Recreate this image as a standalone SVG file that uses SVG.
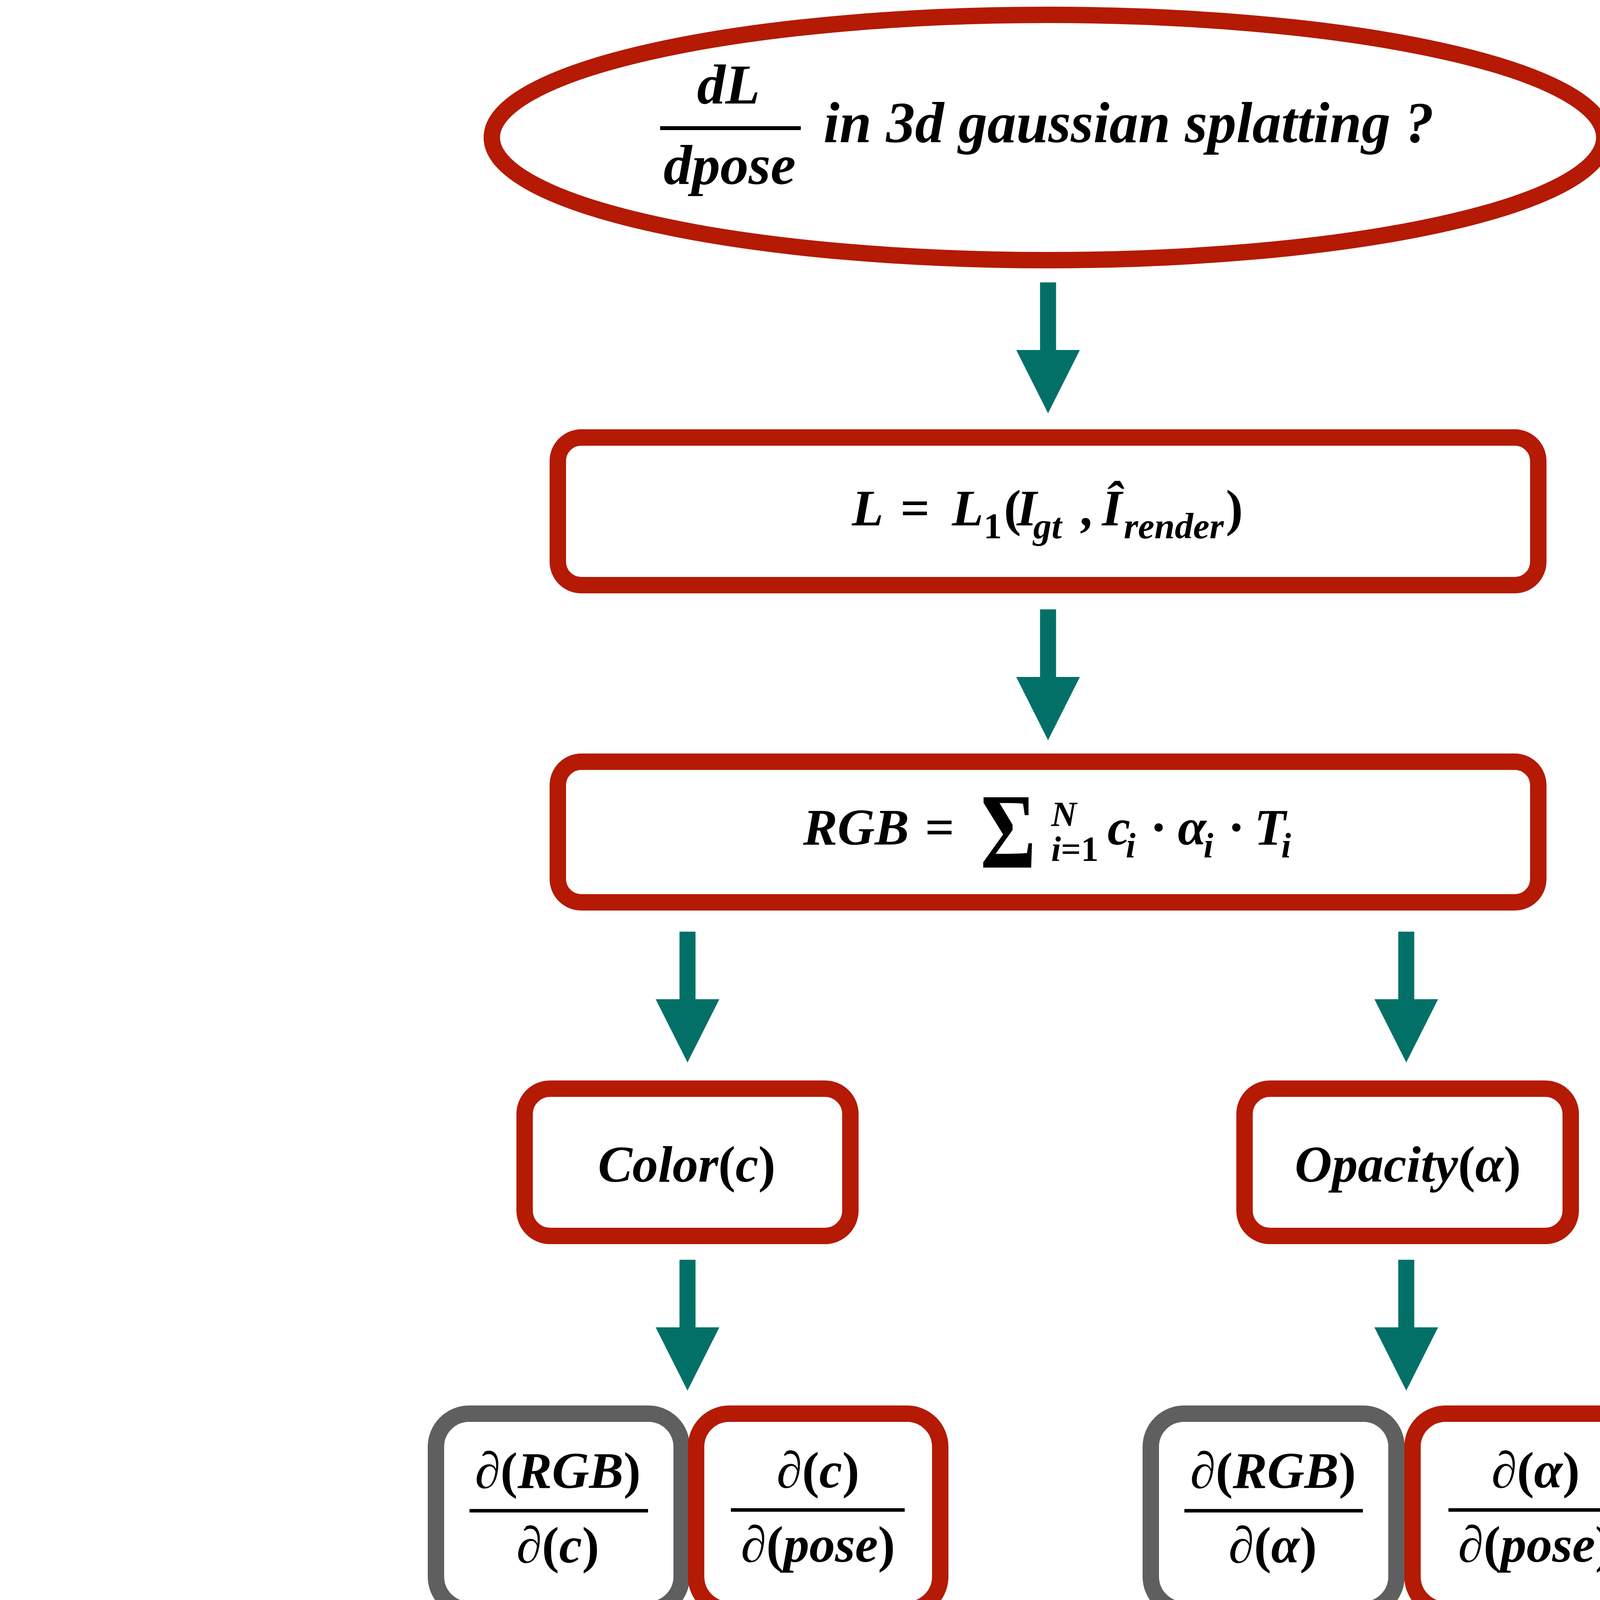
<svg xmlns="http://www.w3.org/2000/svg" xmlns:xlink="http://www.w3.org/1999/xlink" width="5444" height="4161" viewBox="0 0 5444 4161">
<style>
.r{fill:#fff;stroke:#b41a04;stroke-width:42}
.g{fill:#fff;stroke:#5f5f5f;stroke-width:42}
.m{font-family:"Liberation Serif","Times New Roman",serif;font-weight:bold;font-style:italic;fill:#000}
.n{font-style:normal}
.lg{font-family:"Liberation Sans",Arial,sans-serif;font-weight:bold;font-size:106px;fill:#000}
.bar{fill:#000}
.arr{fill:#037068}
</style>
<defs>
<path id="arrow" d="M-20.5,0 H20.5 V173 H81.5 L0,335 L-81.5,173 H-20.5 Z"/>
</defs>
<rect width="5444" height="4161" fill="#fff"/>

<g id="connectors" class="arr">
<use xlink:href="#arrow" href="#arrow" x="2683" y="723"/>
<use xlink:href="#arrow" href="#arrow" x="2683" y="1560"/>
<use xlink:href="#arrow" href="#arrow" x="1760" y="2385"/>
<use xlink:href="#arrow" href="#arrow" x="3600" y="2385"/>
<use xlink:href="#arrow" href="#arrow" x="1760" y="3225"/>
<use xlink:href="#arrow" href="#arrow" x="3600" y="3225"/>
</g>

<g id="question">
<ellipse class="r" cx="2683" cy="352" rx="1424" ry="314"/>
<text class="m" font-size="145" x="1865" y="265" text-anchor="middle">dL</text>
<rect class="bar" x="1690" y="323" width="360" height="10"/>
<text class="m" font-size="145" x="1868" y="471" text-anchor="middle">dpose</text>
<text class="m" font-size="148" x="2108" y="364">in 3d gaussian splatting ?</text>
</g>

<g id="legend">
<rect x="4331" y="201" width="367" height="45" rx="22" fill="#5f5f5f"/>
<text class="lg" x="4775" y="243">Solved</text>
<rect x="4331" y="453" width="367" height="45" rx="22" fill="#b41a04"/>
<text class="lg" x="4775" y="517">To be solved</text>
</g>

<g id="loss">
<rect class="r" x="1428" y="1120" width="2510" height="378" rx="60"/>
<text class="m" font-size="132" y="1345"><tspan x="2181">L</tspan><tspan x="2305" class="n">=</tspan><tspan x="2437">L</tspan><tspan x="2518" y="1378" font-size="94" class="n">1</tspan><tspan x="2570" y="1345" class="n">(</tspan><tspan x="2603">I</tspan><tspan x="2645" y="1378" font-size="94">gt</tspan><tspan x="2769" y="1345">,</tspan><tspan x="2821">Î</tspan><tspan x="2877" y="1378" font-size="94">render</tspan><tspan x="3138" y="1345" class="n">)</tspan></text>
</g>

<g id="rgb">
<rect class="r" x="1428" y="1950" width="2510" height="360" rx="60"/>
<text class="m" font-size="132" y="2162"><tspan x="2056">RGB</tspan><tspan x="2368" class="n">=</tspan></text>
<text class="m n" font-size="275" x="2510" y="2221" textLength="142" lengthAdjust="spacingAndGlyphs">Σ</text>
<text class="m" font-size="90" x="2691" y="2115">N</text>
<text class="m" font-size="90" y="2204"><tspan x="2691">i</tspan><tspan class="n">=1</tspan></text>
<text class="m" font-size="132" y="2162"><tspan x="2835">c</tspan><tspan x="2882" y="2195" font-size="90">i</tspan><tspan x="2944" y="2162" class="n">·</tspan><tspan x="3015">α</tspan><tspan x="3081" y="2195" font-size="90">i</tspan><tspan x="3143" y="2162" class="n">·</tspan><tspan x="3211">T</tspan><tspan x="3280" y="2195" font-size="90">i</tspan></text>
</g>

<g id="color">
<rect class="r" x="1343" y="2787" width="834" height="377" rx="65"/>
<text class="m" font-size="132" x="1758" y="3025" text-anchor="middle">Color<tspan class="n">(</tspan>c<tspan class="n">)</tspan></text>
</g>

<g id="opacity">
<rect class="r" x="3186" y="2787" width="835" height="377" rx="65"/>
<text class="m" font-size="132" x="3604" y="3025" text-anchor="middle">Opacity<tspan class="n">(</tspan>α<tspan class="n">)</tspan></text>
</g>

<g id="dRGB_dc">
<rect class="g" x="1116" y="3619" width="629" height="502" rx="85"/>
<text class="m" font-size="132" x="1428" y="3809" text-anchor="middle">∂<tspan class="n">(</tspan>RGB<tspan class="n">)</tspan></text>
<rect class="bar" x="1202" y="3863" width="457" height="9"/>
<text class="m" font-size="132" x="1428" y="4000" text-anchor="middle">∂<tspan class="n">(</tspan>c<tspan class="n">)</tspan></text>
</g>

<g id="dc_dpose">
<rect class="r" x="1782" y="3619" width="625" height="502" rx="85"/>
<text class="m" font-size="132" x="2094" y="3808" text-anchor="middle">∂<tspan class="n">(</tspan>c<tspan class="n">)</tspan></text>
<rect class="bar" x="1871" y="3861" width="445" height="9"/>
<text class="m" font-size="132" x="2094" y="3998" text-anchor="middle">∂<tspan class="n">(</tspan>pose<tspan class="n">)</tspan></text>
</g>

<g id="dRGB_dalpha">
<rect class="g" x="2946" y="3619" width="629" height="502" rx="85"/>
<text class="m" font-size="132" x="3259" y="3809" text-anchor="middle">∂<tspan class="n">(</tspan>RGB<tspan class="n">)</tspan></text>
<rect class="bar" x="3032" y="3863" width="457" height="9"/>
<text class="m" font-size="132" x="3258" y="4000" text-anchor="middle">∂<tspan class="n">(</tspan>α<tspan class="n">)</tspan></text>
</g>

<g id="dalpha_dpose">
<rect class="r" x="3616" y="3619" width="627" height="502" rx="85"/>
<text class="m" font-size="132" x="3931" y="3808" text-anchor="middle">∂<tspan class="n">(</tspan>α<tspan class="n">)</tspan></text>
<rect class="bar" x="3708" y="3861" width="445" height="9"/>
<text class="m" font-size="132" x="3930" y="3998" text-anchor="middle">∂<tspan class="n">(</tspan>pose<tspan class="n">)</tspan></text>
</g>
</svg>
